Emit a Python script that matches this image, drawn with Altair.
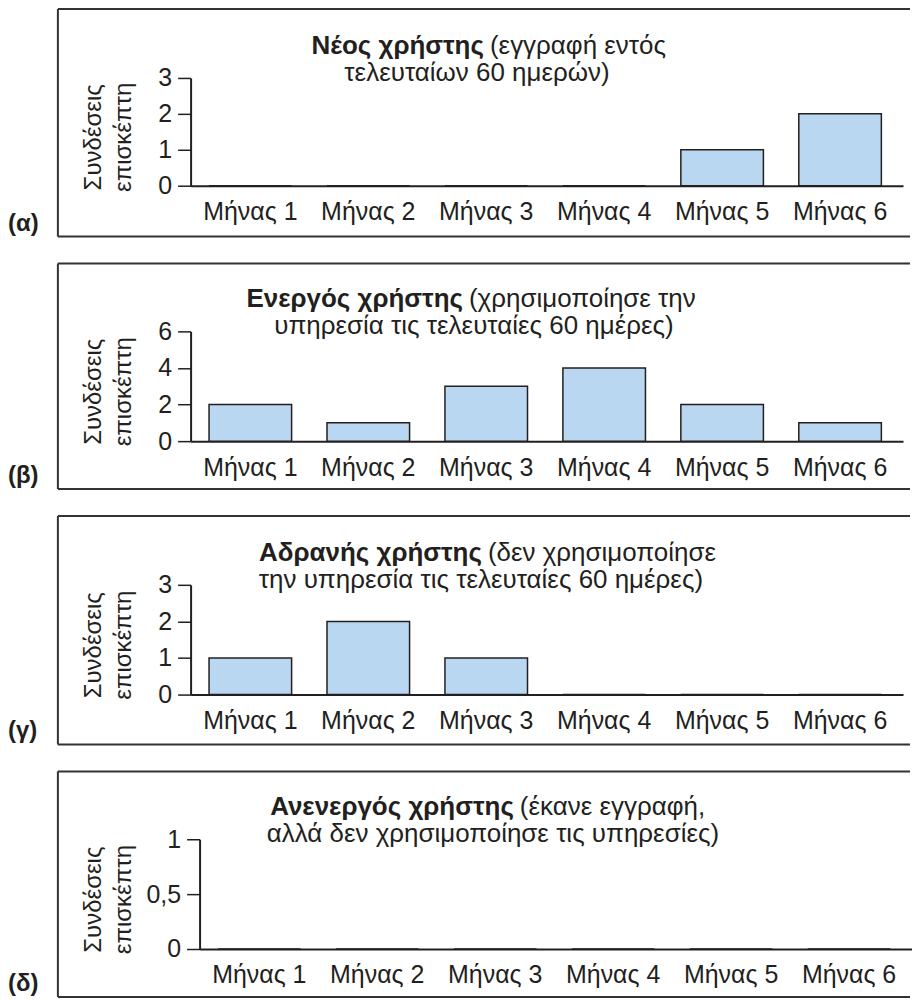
import altair as alt
import pandas as pd

months = ["Μήνας 1", "Μήνας 2", "Μήνας 3", "Μήνας 4", "Μήνας 5", "Μήνας 6"]
new_user = [0, 0, 0, 0, 1, 2]
active_user = [2, 1, 3, 4, 2, 1]
idle_user = [1, 2, 1, 0, 0, 0]
dormant_user = [0, 0, 0, 0, 0, 0]

panel_letters = ["(α)", "(β)", "(γ)", "(δ)"]
bold_titles = ["Νέος χρήστης", "Ενεργός χρήστης", "Αδρανής χρήστης", "Ανενεργός χρήστης"]
rest_titles = ["(εγγραφή εντός", "(χρησιμοποίησε την", "(δεν χρησιμοποίησε", "(έκανε εγγραφή,"]
second_lines = ["τελευταίων 60 ημερών)", "υπηρεσία τις τελευταίες 60 ημέρες)",
                "την υπηρεσία τις τελευταίες 60 ημέρες)", "αλλά δεν χρησιμοποίησε τις υπηρεσίες)"]
y_max = [3, 6, 3, 1]
y_ticks = [[0, 1, 2, 3], [0, 2, 4, 6], [0, 1, 2, 3], [0, 0.5, 1]]
y_title = ["Συνδέσεις", "επισκέπτη"]

FONT = "Liberation Sans"
INK = "#231f20"
BAR_FILL = "#b9d7f0"
W = 714


def text_layer(txt, x, y, align, weight, size):
    return alt.Chart(pd.DataFrame({"t": [txt]})).mark_text(
        align=align, baseline="middle", font=FONT, fontSize=size,
        fontWeight=weight, color=INK
    ).encode(x=alt.value(x), y=alt.value(y), text="t:N")


def panel(i, values, H, top, bottom, shift, ytx, split, center2):
    df = pd.DataFrame({"month": months, "value": values})
    bars = alt.Chart(df).mark_bar(
        fill=BAR_FILL, stroke=INK, strokeWidth=1.5
    ).encode(
        x=alt.X("month:N", sort=months, title=None,
                scale=alt.Scale(range=[shift, shift + W], paddingInner=0.3,
                                paddingOuter=0.17, align=0.46),
                axis=alt.Axis(labelAngle=0, ticks=False, domainColor=INK,
                              domainWidth=2, labelFontSize=25, labelPadding=14,
                              labelColor=INK, labelFont=FONT, grid=False)),
        y=alt.Y("value:Q", scale=alt.Scale(domain=[0, y_max[i]], nice=False),
                axis=alt.Axis(values=y_ticks[i], offset=-shift, tickSize=13,
                              tickWidth=1.5, tickColor=INK, domainColor=INK,
                              domainWidth=2, grid=False, labelFontSize=25,
                              labelPadding=6, labelColor=INK, labelFont=FONT,
                              labelExpr="replace(datum.label, '.', ',')",
                              format=".1~f",
                              title=y_title, titleAngle=270, titleX=ytx,
                              titleY=H / 2 + 5, titleAlign="center",
                              titleBaseline="alphabetic", titleLineHeight=30,
                              titleFontSize=24, titleFontWeight="normal",
                              titleColor=INK, titleFont=FONT)),
    )
    one = pd.DataFrame({"k": [0]})
    left = -133
    right = 721
    rule_top = alt.Chart(one).mark_rule(color="#333333", strokeWidth=2).encode(
        x=alt.value(left), x2=alt.value(right), y=alt.value(-top))
    rule_bottom = alt.Chart(one).mark_rule(color="#333333", strokeWidth=2).encode(
        x=alt.value(left), x2=alt.value(right), y=alt.value(H + bottom))
    rule_left = alt.Chart(one).mark_rule(color="#333333", strokeWidth=2).encode(
        x=alt.value(left), y=alt.value(-top), y2=alt.value(H + bottom))
    letter = text_layer(panel_letters[i], -183, H + bottom - 13, "left", "bold", 24)
    t_bold = text_layer(bold_titles[i], split - 191, -32, "right", "bold", 26)
    t_rest = text_layer(rest_titles[i], split - 191 + 6, -32, "left", "normal", 26)
    t_line2 = text_layer(second_lines[i], center2 - 191, -5, "center", "normal", 26)
    return alt.layer(bars, rule_top, rule_bottom, rule_left, letter,
                     t_bold, t_rest, t_line2).properties(width=shift + W, height=H)


chart = alt.vconcat(
    panel(0, new_user, 108, 69, 51, 0, -90, 485, 478),
    panel(1, active_user, 110, 68, 48, 0, -90, 464, 475),
    panel(2, idle_user, 110, 69, 50, 0, -90, 483, 482),
    panel(3, dormant_user, 110, 68, 48, 9, -99, 515, 494),
    spacing=25,
).properties(
    padding={"left": 0, "top": -1, "right": 0, "bottom": 0},
    background="white",
).configure(font=FONT).configure_view(stroke=None)

chart.save("out.html", embed_options={"renderer": "svg", "actions": False})
